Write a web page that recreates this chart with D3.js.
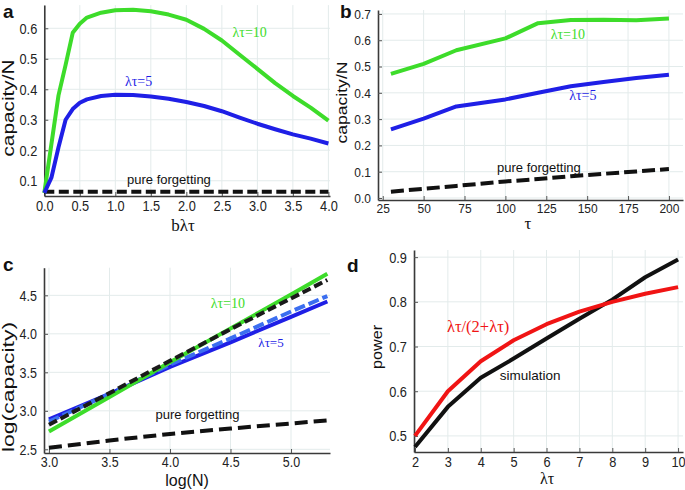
<!DOCTYPE html>
<html><head><meta charset="utf-8">
<script src="https://cdn.jsdelivr.net/npm/d3@7"></script>
<style>
html,body{margin:0;padding:0;background:#fff;}
svg{display:block;}
</style>
</head><body>
<svg id="c" width="685" height="490"></svg>
<script>
// ---------- data ----------
// panel a
const aX      = [0,0.1,0.2,0.3,0.4,0.5,0.6,0.8,1.0,1.25,1.5,1.75,2.0,2.25,2.5,2.75,3.0,3.25,3.5,3.75,4.0];
const aGreen  = [0.06,0.22,0.38,0.48,0.585,0.615,0.635,0.651,0.659,0.661,0.656,0.645,0.628,0.598,0.56,0.513,0.467,0.42,0.378,0.34,0.297];
const aBlue   = [0.06,0.11,0.21,0.30,0.335,0.356,0.367,0.378,0.382,0.381,0.376,0.369,0.358,0.345,0.328,0.307,0.287,0.269,0.252,0.238,0.222];
const aForgetX = [0,4];
const aForget  = [0.064,0.064];
const aXTicks = [0,0.5,1,1.5,2,2.5,3,3.5,4];
const aYTicks = [0.1,0.2,0.3,0.4,0.5,0.6];
// panel b
const bTau    = [30,50,70,100,120,140,160,180,200];
const bGreen  = [0.472,0.51,0.562,0.607,0.665,0.677,0.678,0.676,0.683];
const bBlue   = [0.261,0.302,0.348,0.375,0.40,0.425,0.441,0.456,0.469];
const bForget = [0.024,0.035,0.046,0.063,0.072,0.083,0.092,0.101,0.11];
const bXTicks = [25,50,75,100,125,150,175,200];
const bYTicks = [0,0.1,0.2,0.3,0.4,0.5,0.6,0.7];
// panel c
const cLogN      = [3.0,3.5,4.0,4.5,5.0,5.3];
const cGreen     = [2.73,3.18,3.63,4.07,4.51,4.78];
const cBlackDash = [2.82,3.23,3.65,4.06,4.46,4.70];
const cBlueDash  = [2.86,3.22,3.60,3.94,4.29,4.49];
const cBlue      = [2.89,3.22,3.57,3.89,4.22,4.42];
const cForget    = [2.52,2.615,2.70,2.77,2.835,2.875];
const cXTicks = [3.0,3.5,4.0,4.5,5.0];
const cYTicks = [2.5,3.0,3.5,4.0,4.5];
// panel d
const dLT     = [2,3,4,5,6,7,8,9,10];
const dTheory = [0.5,0.6,0.667,0.714,0.75,0.778,0.8,0.818,0.833];
const dSim    = [0.475,0.565,0.63,0.673,0.718,0.762,0.805,0.855,0.895];
const dXTicks = [2,3,4,5,6,7,8,9,10];
const dYTicks = [0.5,0.6,0.7,0.8,0.9];

// ---------- style ----------
const GREEN = "#3ddc2a", BLUE = "#1f1fe6", LBLUE = "#3b6ef0", RED = "#f01414", BLACK = "#111";
const SANS = "'Liberation Sans', Arial, Helvetica, sans-serif";
const SERIF = "'Liberation Serif', 'Times New Roman', serif";
const svg = d3.select("#c");

function panel(o){
  const g = svg.append("g");
  const x = d3.scaleLinear().domain(o.xd).range(o.xr);
  const y = d3.scaleLinear().domain(o.yd).range(o.yr);
  const [x0,x1] = o.xr, [y0,y1] = o.yr; // y0 bottom, y1 top
  const st = o.st || 1.12;
  // grid
  g.append("g").selectAll("line").data(o.xt).join("line")
    .attr("x1",d=>x(d)).attr("x2",d=>x(d)).attr("y1",y0).attr("y2",y1)
    .attr("stroke","#e3ebeb").attr("stroke-width",1);
  g.append("g").selectAll("line").data(o.yt).join("line")
    .attr("y1",d=>y(d)).attr("y2",d=>y(d)).attr("x1",x0).attr("x2",x1)
    .attr("stroke","#e3ebeb").attr("stroke-width",1);
  // axes via d3 axis (inner ticks)
  const xa = d3.axisBottom(x).tickValues(o.xt).tickFormat(o.xf).tickSizeInner(-4).tickSizeOuter(0);
  const ya = d3.axisLeft(y).tickValues(o.yt).tickFormat(o.yf).tickSizeInner(-4).tickSizeOuter(0);
  const gx = g.append("g").attr("transform",`translate(0,${y0})`).call(xa);
  const gy = g.append("g").attr("transform",`translate(${x0},0)`).call(ya);
  [gx,gy].forEach(a=>{
    a.select(".domain").attr("stroke","#3a3a3a").attr("stroke-width",1.6);
    a.selectAll(".tick line").attr("stroke","#555").attr("stroke-width",1);
    a.selectAll("text").attr("font-family",SANS).attr("font-size",o.tfs).attr("fill","#222");
  });
  gx.selectAll("text").attr("y",0).attr("dy",0)
    .attr("transform",`translate(0,${o.xoff}) scale(1,${st})`);
  gy.selectAll("text").attr("x",0).attr("dy","0.34em")
    .attr("transform",`translate(-7,0) scale(1,${st})`);
  // lines
  o.series.forEach(s=>{
    const line = d3.line().x((d,i)=>x(s.x[i])).y(d=>y(d));
    g.append("path").datum(s.y).attr("d",line).attr("fill","none")
      .attr("stroke",s.c).attr("stroke-width",s.w||4)
      .attr("stroke-dasharray",s.dash||null).attr("stroke-linejoin","round");
  });
  // labels
  (o.labels||[]).forEach(l=>{
    g.append("text").attr("x",x(l.x)).attr("y",y(l.y)).text(l.t)
      .attr("font-family",l.serif?SERIF:SANS).attr("font-size",l.fs).attr("fill",l.c)
      .attr("text-anchor",l.anchor||"start");
  });
  return {g,x,y};
}
function txt(x,y,t,fs,fam,opts={}){
  const s = opts.s || 1;
  const tr = opts.rot ? `translate(${x},${y}) rotate(-90) scale(${s},1)` : `translate(${x},${y}) scale(1,${s})`;
  const e = svg.append("text").attr("x",0).attr("y",0).attr("transform",tr).text(t).attr("font-family",fam)
   .attr("font-size",fs).attr("fill",opts.fill||"#111").attr("text-anchor",opts.anchor||"middle");
  if(opts.bold) e.attr("font-weight","bold");
  return e;
}
const f1 = d3.format(".1f"), f0 = d3.format("d");

// panel a
panel({
  xd:[0,4.0225], xr:[44.3,330], yd:[0.05,0.676], yr:[196,5.1],
  xt:aXTicks, yt:aYTicks, xf:f1, yf:f1, tfs:12.8, xoff:14.5,
  series:[
    {x:aForgetX,y:aForget,c:BLACK,dash:"10,4.5"},
    {x:aX,y:aGreen,c:GREEN},
    {x:aX,y:aBlue,c:BLUE}
  ],
  labels:[
    {x:2.65,y:0.573,t:"λτ=10",c:GREEN,serif:true,fs:14},
    {x:1.135,y:0.411,t:"λτ=5",c:BLUE,serif:true,fs:14},
    {x:1.755,y:0.09,t:"pure forgetting",c:"#111",fs:13,anchor:"middle"}
  ]
});
// panel b
panel({
  xd:[22.1,208.6], xr:[378,683], yd:[-0.0076,0.715], yr:[200,10],
  xt:bXTicks, yt:bYTicks, xf:f0, yf:f1, tfs:12, xoff:12.5, st:1.06,
  series:[
    {x:bTau,y:bForget,c:BLACK,dash:"13,5"},
    {x:bTau,y:bGreen,c:GREEN},
    {x:bTau,y:bBlue,c:BLUE}
  ],
  labels:[
    {x:127.7,y:0.605,t:"λτ=10",c:GREEN,serif:true,fs:14},
    {x:139,y:0.373,t:"λτ=5",c:BLUE,serif:true,fs:14},
    {x:120.5,y:0.10,t:"pure forgetting",c:"#111",fs:13,anchor:"middle"}
  ]
});
// panel c
panel({
  xd:[2.959,5.322], xr:[44,330], yd:[2.452,4.859], yr:[453,267.7],
  xt:cXTicks, yt:cYTicks, xf:f1, yf:f1, tfs:12.5, xoff:14,
  series:[
    {x:cLogN,y:cForget,c:BLACK,dash:"13,6"},
    {x:cLogN,y:cBlue,c:BLUE},
    {x:cLogN,y:cBlueDash,c:LBLUE,dash:"11,4"},
    {x:cLogN,y:cGreen,c:GREEN},
    {x:cLogN,y:cBlackDash,c:"#1a1a1a",dash:"9,4"}
  ],
  labels:[
    {x:4.336,y:4.335,t:"λτ=10",c:GREEN,serif:true,fs:14},
    {x:4.73,y:3.835,t:"λτ=5",c:BLUE,serif:true,fs:13},
    {x:4.227,y:2.89,t:"pure forgetting",c:"#111",fs:13,anchor:"middle"}
  ]
});
// panel d
panel({
  xd:[1.97,10.15], xr:[414,683], yd:[0.464,0.916], yr:[452,250],
  xt:dXTicks, yt:dYTicks, xf:f0, yf:f1, tfs:12.8, xoff:14.5,
  series:[
    {x:dLT,y:dSim,c:BLACK},
    {x:dLT,y:dTheory,c:RED}
  ],
  labels:[
    {x:2.97,y:0.733,t:"λτ/(2+λτ)",c:RED,serif:true,fs:16.5},
    {x:5.5,y:0.625,t:"simulation",c:"#111",fs:13.5,anchor:"middle"}
  ]
});

// axis titles
txt(13.5,108,"capacity/N",16,SANS,{rot:true,s:1.3});
txt(183,231,"bλτ",17,SERIF);
txt(347,102.5,"capacity/N",14.5,SANS,{rot:true,s:1.21});
txt(528,229,"τ",17,SERIF);
txt(14,387,"log(capacity)",17,SANS,{rot:true,s:1.35});
txt(187,486,"log(N)",16,SANS);
txt(382,347,"power",14.5,SANS,{rot:true,s:1.12});
txt(547,484,"λτ",16,SERIF);
// panel letters
txt(3,18,"a",19,SANS,{bold:true,anchor:"start"});
txt(340,18,"b",19,SANS,{bold:true,anchor:"start"});
txt(3,271,"c",19,SANS,{bold:true,anchor:"start"});
txt(347,272,"d",19,SANS,{bold:true,anchor:"start"});
</script>
</body></html>
